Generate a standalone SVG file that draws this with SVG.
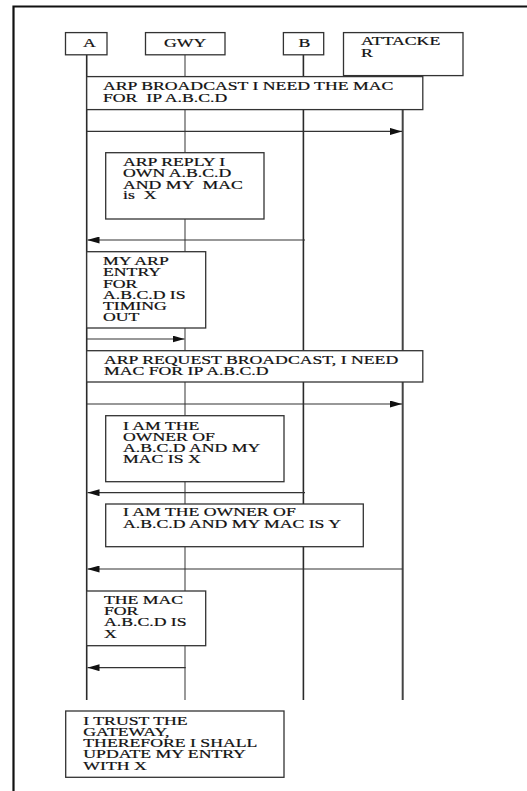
<svg xmlns="http://www.w3.org/2000/svg" width="527" height="791" viewBox="0 0 527 791">
<style>
.frame{fill:none;stroke:#111;stroke-width:2.2}
.box{fill:#fff;stroke:#333;stroke-width:1.3}
.life{fill:none;stroke:#2a2a2a;stroke-width:1.6}
.life-g{fill:none;stroke:#808080;stroke-width:1.6}
.msg{fill:none;stroke:#333;stroke-width:1.2}
.t{font-family:"Liberation Serif","Times New Roman",serif;font-size:11.5px;fill:#111;stroke:#111;stroke-width:0.2}
</style>
<defs>
<marker id="ah" viewBox="0 0 12 7" refX="12" refY="3.5" markerWidth="12" markerHeight="7" markerUnits="userSpaceOnUse" orient="auto">
<path d="M0,0 L12,3.5 L0,7 Z" fill="#111"/>
</marker>
</defs>
<rect width="527" height="791" fill="#fff"/>
<path class="frame" d="M13.5,791 V6.5 H527"/>

<g id="lifelines">
<line class="life" x1="86.7" y1="54.8" x2="86.7" y2="700"/>
<line class="life-g" x1="185" y1="54.8" x2="185" y2="700"/>
<line class="life" x1="303.4" y1="54.8" x2="303.4" y2="700"/>
<line class="life" x1="402.7" y1="75.6" x2="402.7" y2="700" style="stroke:#444;stroke-width:2"/>
</g>

<g id="connectors">
<line class="msg" x1="86.7" y1="131.4" x2="402" y2="131.4" marker-end="url(#ah)"/>
<line class="msg" x1="305" y1="240" x2="87.5" y2="240" marker-end="url(#ah)"/>
<line class="msg" x1="86.7" y1="339" x2="184.5" y2="339" marker-end="url(#ah)"/>
<line class="msg" x1="86.7" y1="404" x2="402" y2="404" marker-end="url(#ah)"/>
<line class="msg" x1="305" y1="492.7" x2="87.5" y2="492.7" marker-end="url(#ah)"/>
<line class="msg" x1="402.7" y1="569" x2="87.5" y2="569" marker-end="url(#ah)"/>
<line class="msg" x1="185.7" y1="667.7" x2="87.5" y2="667.7" marker-end="url(#ah)"/>
</g>

<g id="node-A">
<rect class="box" x="65.5" y="32.6" width="41.5" height="22.2"/>
<text class="t" transform="translate(83,0) scale(1.54,1)"><tspan x="0" y="47">A</tspan></text>
</g>
<g id="node-GWY">
<rect class="box" x="145.5" y="32.6" width="79.5" height="22.2"/>
<text class="t" transform="translate(164,0) scale(1.54,1)"><tspan x="0" y="47">GWY</tspan></text>
</g>
<g id="node-B">
<rect class="box" x="283.4" y="32.6" width="40.3" height="22.2"/>
<text class="t" transform="translate(298.5,0) scale(1.54,1)"><tspan x="0" y="47">B</tspan></text>
</g>
<g id="node-ATTACKER">
<rect class="box" x="343.5" y="32.6" width="119.5" height="43"/>
<text class="t" transform="translate(361,0) scale(1.54,1)"><tspan x="0" y="45.5">ATTACKE</tspan><tspan x="0" y="57.5">R</tspan></text>
</g>

<g id="note-arp-broadcast">
<rect class="box" x="86.7" y="76.6" width="336.1" height="33"/>
<text class="t" xml:space="preserve" transform="translate(103,0) scale(1.54,1)"><tspan x="0" y="90">ARP BROADCAST I NEED THE MAC</tspan><tspan x="0" y="102.5">FOR  IP A.B.C.D</tspan></text>
</g>
<g id="note-arp-reply">
<rect class="box" x="105.7" y="152.7" width="158.3" height="66.3"/>
<text class="t" xml:space="preserve" transform="translate(123,0) scale(1.54,1)"><tspan x="0" y="166">ARP REPLY I</tspan><tspan x="0" y="177.4">OWN A.B.C.D</tspan><tspan x="0" y="188.6">AND MY  MAC</tspan><tspan x="0" y="199.5">is  X</tspan></text>
</g>
<g id="note-timing-out">
<rect class="box" x="86.7" y="251.7" width="119" height="76.3"/>
<text class="t" transform="translate(103,0) scale(1.54,1)"><tspan x="0" y="265.5">MY ARP</tspan><tspan x="0" y="276.5">ENTRY</tspan><tspan x="0" y="287.6">FOR</tspan><tspan x="0" y="298.7">A.B.C.D IS</tspan><tspan x="0" y="309.7">TIMING</tspan><tspan x="0" y="320.6">OUT</tspan></text>
</g>
<g id="note-arp-request">
<rect class="box" x="86.7" y="350.7" width="336.1" height="31.3"/>
<text class="t" transform="translate(104,0) scale(1.54,1)"><tspan x="0" y="363.8">ARP REQUEST BROADCAST, I NEED</tspan><tspan x="0" y="375.5">MAC FOR IP A.B.C.D</tspan></text>
</g>
<g id="note-owner-x">
<rect class="box" x="105.7" y="415.7" width="178.3" height="66"/>
<text class="t" transform="translate(123,0) scale(1.54,1)"><tspan x="0" y="429.8">I AM THE</tspan><tspan x="0" y="440.8">OWNER OF</tspan><tspan x="0" y="452">A.B.C.D AND MY</tspan><tspan x="0" y="463">MAC IS X</tspan></text>
</g>
<g id="note-owner-y">
<rect class="box" x="105.7" y="504" width="257.6" height="42.7"/>
<text class="t" transform="translate(123,0) scale(1.54,1)"><tspan x="0" y="516.5">I AM THE OWNER OF</tspan><tspan x="0" y="528">A.B.C.D AND MY MAC IS Y</tspan></text>
</g>
<g id="note-mac-for">
<rect class="box" x="86.7" y="591" width="119" height="54.7"/>
<text class="t" transform="translate(104,0) scale(1.54,1)"><tspan x="0" y="604.5">THE MAC</tspan><tspan x="0" y="615.5">FOR</tspan><tspan x="0" y="626.5">A.B.C.D IS</tspan><tspan x="0" y="637.8">X</tspan></text>
</g>
<g id="note-trust">
<rect class="box" x="65.7" y="711" width="218.3" height="66.3"/>
<text class="t" transform="translate(83.3,0) scale(1.54,1)"><tspan x="0" y="724.8">I TRUST THE</tspan><tspan x="0" y="736">GATEWAY,</tspan><tspan x="0" y="747.2">THEREFORE I SHALL</tspan><tspan x="0" y="758.5">UPDATE MY ENTRY</tspan><tspan x="0" y="769.8">WITH X</tspan></text>
</g>
</svg>
